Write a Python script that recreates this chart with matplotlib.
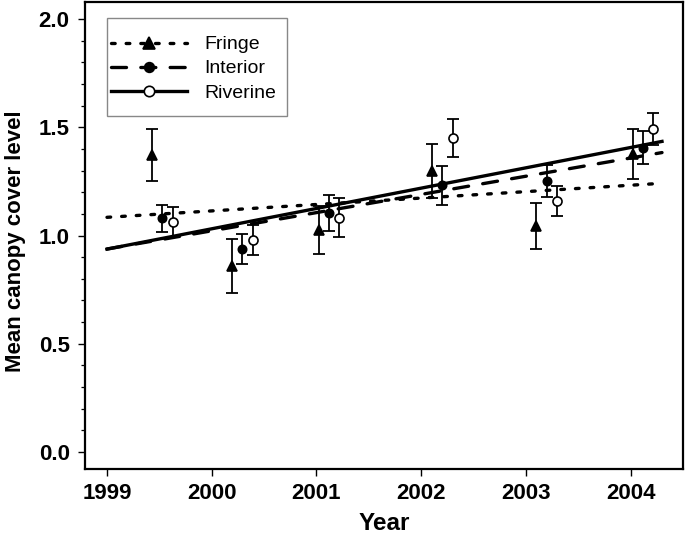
#!/usr/bin/env python3
"""Mean canopy cover level by year for three mangrove zones."""

import matplotlib
import numpy as np

matplotlib.use("Agg")
import matplotlib.pyplot as plt
from matplotlib.patches import Rectangle
from matplotlib.ticker import FormatStrFormatter, MultipleLocator

# sampling dates (decimal year) and mean +/- error for each zone
FRINGE_X = [1999.43, 2000.19, 2001.02, 2002.10, 2003.10, 2004.02]
FRINGE_Y = [1.372, 0.860, 1.025, 1.298, 1.044, 1.375]
FRINGE_ERR = [0.118, 0.125, 0.110, 0.125, 0.105, 0.115]

INTERIOR_X = [1999.53, 2000.29, 2001.12, 2002.20, 2003.20, 2004.12]
INTERIOR_Y = [1.079, 0.936, 1.103, 1.233, 1.252, 1.406]
INTERIOR_ERR = [0.062, 0.069, 0.083, 0.090, 0.073, 0.078]

RIVERINE_X = [1999.63, 2000.39, 2001.22, 2002.30, 2003.30, 2004.21]
RIVERINE_Y = [1.064, 0.979, 1.081, 1.449, 1.159, 1.491]
RIVERINE_ERR = [0.069, 0.071, 0.090, 0.088, 0.069, 0.073]

FIT_RANGE = [1999.0, 2004.3]
YEARS = [1999, 2000, 2001, 2002, 2003, 2004]

FONT = "Liberation Sans"
LW = 2.4


def main() -> None:
    fig = plt.figure(figsize=(6.85, 5.37), dpi=100)
    ax = fig.add_axes([0.1241, 0.1266, 0.8729, 0.8697])

    series = [
        ("Fringe", FRINGE_X, FRINGE_Y, FRINGE_ERR, "^", "k", (0, (1.1, 3.3)), 7.5),
        ("Interior", INTERIOR_X, INTERIOR_Y, INTERIOR_ERR, "o", "k", (0, (4.5, 4.3)), 6),
        ("Riverine", RIVERINE_X, RIVERINE_Y, RIVERINE_ERR, "o", "white", "-", 6.5),
    ]
    fit_x = np.array(FIT_RANGE)
    handles = []
    for name, xs, ys, errs, marker, face, ls, ms in series:
        ax.errorbar(
            xs, ys, yerr=errs, fmt="none", ecolor="k",
            elinewidth=1.3, capsize=4.6, capthick=1.3, zorder=3,
        )
        ax.plot(
            xs, ys, linestyle="none", marker=marker, markersize=ms,
            markerfacecolor=face, markeredgecolor="k", markeredgewidth=1.2, zorder=4,
        )
        slope, intercept = np.polyfit(xs, ys, 1)
        ax.plot(
            fit_x, intercept + slope * fit_x, color="k", linewidth=LW,
            linestyle=ls, dash_capstyle="round", zorder=2,
        )
        (h,) = ax.plot(
            [], [], color="k", linewidth=LW, linestyle=ls, dash_capstyle="round",
            marker=marker, markersize=ms + 1, markerfacecolor=face,
            markeredgecolor="k", markeredgewidth=1.2, label=name,
        )
        handles.append(h)

    ax.set_xlim(1998.79, 2004.50)
    ax.set_ylim(-0.0785, 2.0785)
    ax.set_xticks(YEARS)
    ax.set_xticklabels([str(y) for y in YEARS])
    ax.yaxis.set_major_locator(MultipleLocator(0.5))
    ax.yaxis.set_minor_locator(MultipleLocator(0.1))
    ax.yaxis.set_major_formatter(FormatStrFormatter("%.1f"))

    ax.tick_params(axis="both", which="major", direction="out", length=5, width=1.0,
                   labelsize=16)
    ax.tick_params(axis="x", which="major", pad=5)
    ax.tick_params(axis="y", which="major", pad=6)
    ax.tick_params(axis="y", which="minor", direction="out", length=3, width=0.9)
    for lab in ax.get_xticklabels() + ax.get_yticklabels():
        lab.set_fontfamily(FONT)
        lab.set_fontweight("bold")
    for spine in ax.spines.values():
        spine.set_linewidth(1.6)

    ax.set_xlabel("Year", fontsize=17.5, fontweight="bold", family=FONT, labelpad=6)
    ax.set_ylabel("Mean canopy cover level", fontsize=16, fontweight="bold",
                  family=FONT)
    ax.yaxis.set_label_coords(-0.098, 0.488)

    # legend frame drawn separately so its padding can match the original
    ax.add_patch(Rectangle(
        (0.0368, 0.7559), 0.301, 0.2098, transform=ax.transAxes,
        facecolor="white", edgecolor="#888888", linewidth=1.0, zorder=5,
    ))
    leg = ax.legend(
        handles=handles, loc="upper left", bbox_to_anchor=(0.043, 0.9275),
        handlelength=3.9, handletextpad=0.9, borderpad=0, borderaxespad=0,
        labelspacing=0.33, frameon=False, prop={"family": FONT, "size": 14},
    )
    leg.set_zorder(6)

    fig.savefig("out.png", dpi=100)
    plt.close(fig)


if __name__ == "__main__":
    main()
